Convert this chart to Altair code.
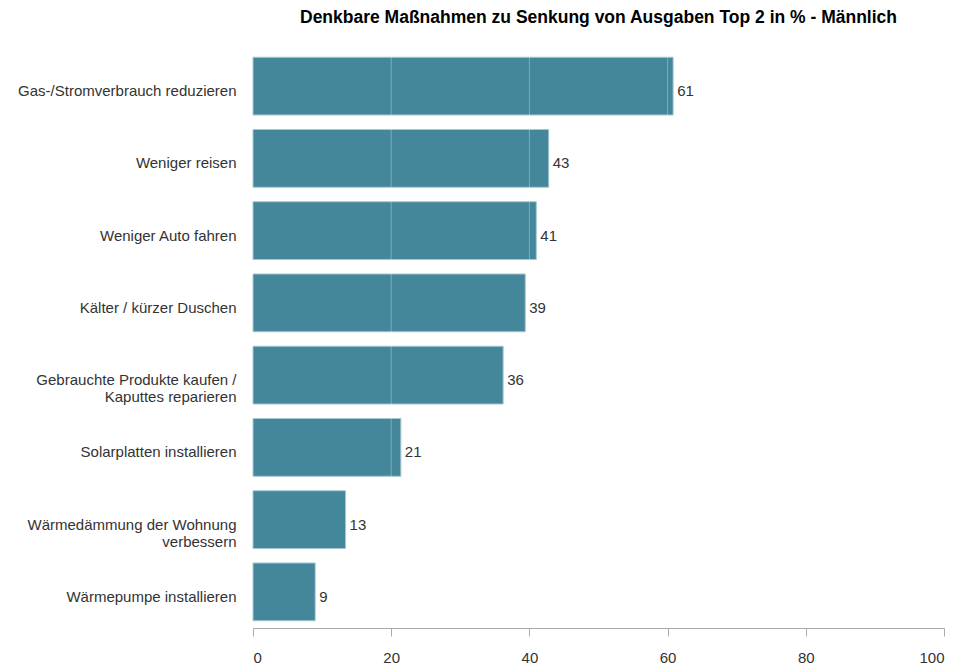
import altair as alt
import pandas as pd

categories = [
    "Gas-/Stromverbrauch reduzieren",
    "Weniger reisen",
    "Weniger Auto fahren",
    "Kälter / kürzer Duschen",
    "Gebrauchte Produkte kaufen /|Kaputtes reparieren",
    "Solarplatten installieren",
    "Wärmedämmung der Wohnung|verbessern",
    "Wärmepumpe installieren",
]
values = [60.8, 42.8, 41.0, 39.4, 36.2, 21.4, 13.4, 9.0]
x_ticks = [0, 20, 40, 60, 80, 100]

df = pd.DataFrame({"cat": categories, "value": values})

FONT = "Liberation Sans"
BAR = "#44879b"

base = alt.Chart(df)

y_enc = alt.Y(
    "cat:N",
    sort=categories,
    title=None,
    scale=alt.Scale(paddingInner=0.2, paddingOuter=0.1),
    axis=alt.Axis(
        labelExpr="split(datum.label, '|')",
        domain=False,
        ticks=False,
        labelPadding=17,
        labelOffset=5,
        labelFont=FONT,
        labelFontSize=15,
        labelColor="#333333",
        labelLimit=400,
        labelLineHeight=17,
    ),
)

bars = base.mark_bar(color=BAR, stroke="#a8c8d2", strokeWidth=1).encode(
    x=alt.X(
        "value:Q",
        title=None,
        scale=alt.Scale(domain=[0, 100], nice=False),
        axis=alt.Axis(
            values=x_ticks,
            grid=False,
            domainColor="#aaaaaa",
            tickColor="#aaaaaa",
            tickSize=8,
            labelPadding=14,
            labelFont=FONT,
            labelFontSize=15,
            labelColor="#333333",
        ),
    ),
    y=y_enc,
)

grid_df = pd.DataFrame({"g": [20, 40, 60, 80]})
grid = alt.Chart(grid_df).mark_rule(color="#ffffff", opacity=0.3, strokeWidth=1).encode(
    x=alt.X("g:Q")
)

labels = base.mark_text(
    align="left", baseline="middle", dx=4, dy=5, font=FONT, fontSize=15, color="#333333"
).encode(
    x="value:Q",
    y=alt.Y("cat:N", sort=categories),
    text=alt.Text("value:Q", format=".0f"),
)

chart = (
    alt.layer(bars, grid, labels)
    .properties(
        width=691,
        height=578,
        padding={"left": 9, "top": 0, "right": 0, "bottom": 0},
        title=alt.TitleParams(
            "Denkbare Maßnahmen zu Senkung von Ausgaben Top 2 in % - Männlich",
            font=FONT,
            fontSize=17.5,
            fontWeight="bold",
            color="#000000",
            anchor="middle",
            offset=23.5,
        ),
    )
    .configure_view(stroke=None)
)

chart.save("out.html", embed_options={"renderer": "svg", "actions": False})
